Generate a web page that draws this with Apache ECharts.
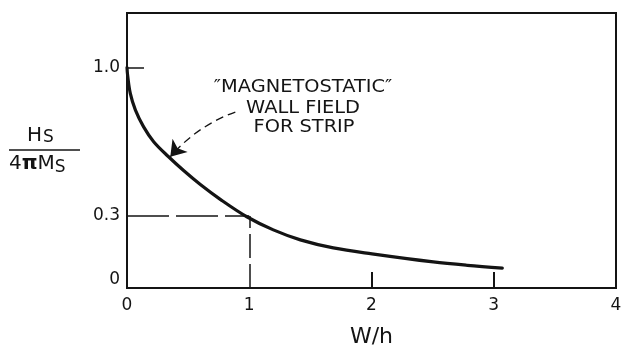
<!DOCTYPE html>
<html>
<head>
<meta charset="utf-8">
<script src="https://cdn.jsdelivr.net/npm/echarts@6/dist/echarts.min.js"></script>
<style>
  html, body { margin: 0; padding: 0; background: #fff; }
  #chart { width: 622px; height: 348px; }
</style>
</head>
<body>
<div id="chart"></div>
<script>
  // W/h values along the curve and the field ratio Hs / 4πMs
  const wh = [0, 0.005, 0.027, 0.069, 0.136, 0.218, 0.34, 0.463, 0.6, 0.763, 0.98, 1.197, 1.418, 1.688, 2.004, 2.505, 2.784, 3.07];
  const ratio = [1.0, 0.964, 0.878, 0.799, 0.72, 0.65, 0.579, 0.514, 0.448, 0.378, 0.296, 0.234, 0.187, 0.149, 0.121, 0.083, 0.067, 0.054];
  const xTickLabels = [0, 1, 2, 3, 4];
  const yTickLabels = [0, 0.3, 1.0];
  // annotation arrow: from the note text to the curve
  const arrowFrom = [0.886, 0.79];
  const arrowTo = [0.354, 0.579];
  // dashed read-out at W/h = 1
  const readX = 1;
  const readY = 0.3;

  const ink = "#141414";
  const font = "DejaVu Sans";

  const chart = echarts.init(document.getElementById("chart"));
  const option = {
    animation: false,
    backgroundColor: "#fff",
    textStyle: { fontFamily: font, color: ink },
    grid: {
      left: 127, right: 6, top: 13, bottom: 60,
      outerBoundsMode: "none",
      containLabel: false,
      show: true, borderColor: ink, borderWidth: 2
    },
    xAxis: {
      type: "value",
      min: 0, max: 4,
      name: "W/h",
      nameLocation: "middle",
      nameGap: 38,
      nameTextStyle: { fontSize: 22, color: ink, fontFamily: font },
      axisLine: { onZero: false, lineStyle: { color: ink, width: 2 } },
      axisTick: { show: true, inside: true, length: 16, customValues: [2, 3], lineStyle: { color: ink, width: 2 } },
      axisLabel: {
        customValues: xTickLabels,
        margin: 9,
        fontSize: 17,
        color: ink,
        fontFamily: font,
        formatter: v => String(v)
      },
      splitLine: { show: false }
    },
    yAxis: {
      type: "value",
      min: -0.04, max: 1.257,
      axisLine: { show: true, lineStyle: { color: ink, width: 2 } },
      axisTick: { show: true, inside: true, length: 17, customValues: [1.0], lineStyle: { color: ink, width: 1.5 } },
      axisLabel: {
        customValues: yTickLabels,
        margin: 7,
        fontSize: 17,
        color: ink,
        fontFamily: font,
        formatter: v => (v === 0 ? "0" : v.toFixed(1))
      },
      splitLine: { show: false }
    },
    series: [
      {
        name: "wall field",
        type: "line",
        data: wh.map((x, i) => [x, ratio[i]]),
        smooth: 0.35,
        showSymbol: false,
        lineStyle: { color: ink, width: 3.2, cap: "round" },
        markLine: {
          silent: true,
          symbol: "none",
          label: { show: false },
          data: [
            [{ coord: [0, readY], lineStyle: { color: ink, width: 1.5, type: [42, 7] } }, { coord: [readX, readY] }],
            [{ coord: [readX, -0.04], lineStyle: { color: ink, width: 1.5, type: [24, 6] } }, { coord: [readX, readY] }]
          ]
        }
      },
      {
        name: "note arrow",
        type: "lines",
        coordinateSystem: "cartesian2d",
        symbol: ["none", "arrow"],
        symbolSize: [7, 15],
        lineStyle: { color: ink, width: 1.3, type: [8, 5], curveness: -0.13, opacity: 1 },
        data: [{ coords: [arrowFrom, arrowTo] }]
      }
    ],
    graphic: [
      {
        type: "text",
        x: 303, y: 79, scaleX: 1.14,
        style: { text: "\u2033MAGNETOSTATIC\u2033", font: "17px " + font, fill: ink, align: "center" }
      },
      {
        type: "text",
        x: 303, y: 100, scaleX: 1.14,
        style: { text: "WALL FIELD", font: "17px " + font, fill: ink, align: "center" }
      },
      {
        type: "text",
        x: 304, y: 119, scaleX: 1.14,
        style: { text: "FOR STRIP", font: "17px " + font, fill: ink, align: "center" }
      },
      {
        type: "text",
        x: 27, y: 124,
        style: {
          text: "{h|H}{s|S}",
          rich: {
            h: { fontSize: 20, fontFamily: font, fill: ink, verticalAlign: "bottom" },
            s: { fontSize: 17, fontFamily: font, fill: ink, verticalAlign: "bottom", padding: [5, 0, 0, 1] }
          }
        }
      },
      {
        type: "line",
        shape: { x1: 9, y1: 150, x2: 80, y2: 150 },
        style: { stroke: ink, lineWidth: 1.5 }
      },
      {
        type: "text",
        x: 9, y: 152,
        style: {
          text: "{n|4}{p|\u03C0}{h|M}{s|S}",
          rich: {
            n: { fontSize: 20, fontFamily: font, fill: ink },
            p: { fontSize: 20, fontFamily: font, fontWeight: "bold", fill: ink },
            h: { fontSize: 20, fontFamily: font, fill: ink },
            s: { fontSize: 17, fontFamily: font, fill: ink, padding: [7, 0, 0, 0] }
          }
        }
      }
    ]
  };
  chart.setOption(option);
  window.addEventListener("resize", () => chart.resize());
</script>
</body>
</html>
